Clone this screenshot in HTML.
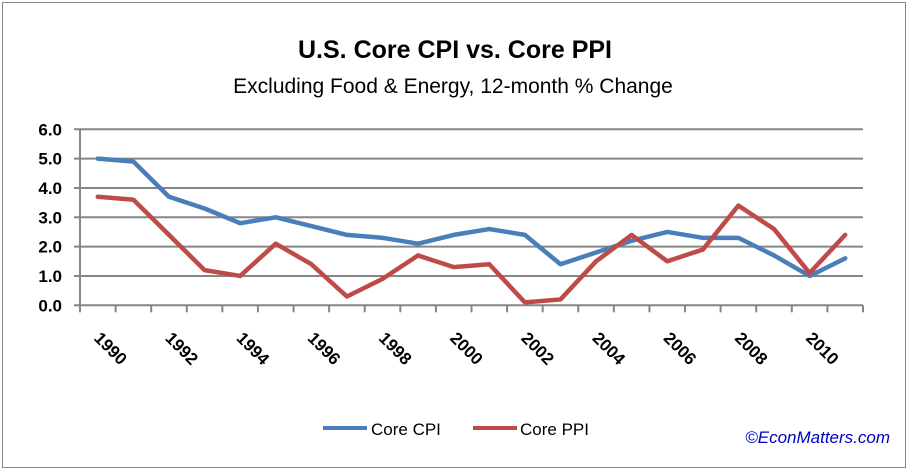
<!DOCTYPE html>
<html><head><meta charset="utf-8"><style>
body{margin:0;background:#fff;}
svg{display:block;font-family:"Liberation Sans",sans-serif;}
</style></head><body>
<svg id="chart" width="909" height="472">
<rect x="2.5" y="2.5" width="903" height="465" fill="#fff" stroke="#868686"/>
<text x="455" y="58" text-anchor="middle" font-size="25" font-weight="bold">U.S. Core CPI vs. Core PPI</text>
<text x="453" y="93" text-anchor="middle" font-size="21">Excluding Food &amp; Energy, 12-month % Change</text>
<g id="grid"></g><g id="series"></g>
<g>
<line x1="323" y1="428" x2="367" y2="428" stroke="#4a7ebb" stroke-width="4"/>
<text x="371" y="435" font-size="17">Core CPI</text>
<line x1="473" y1="428" x2="517" y2="428" stroke="#be4b48" stroke-width="4"/>
<text x="520" y="435" font-size="17">Core PPI</text>
</g>
<text x="890" y="443" text-anchor="end" font-size="17" font-style="italic" fill="#0000c0">©EconMatters.com</text>
</svg>
<script>
const years=["1990","1991","1992","1993","1994","1995","1996","1997","1998","1999","2000","2001","2002","2003","2004","2005","2006","2007","2008","2009","2010","2011"];
const cpi=[5.0,4.9,3.7,3.3,2.8,3.0,2.7,2.4,2.3,2.1,2.4,2.6,2.4,1.4,1.8,2.2,2.5,2.3,2.3,1.7,1.0,1.6];
const ppi=[3.7,3.6,2.4,1.2,1.0,2.1,1.4,0.3,0.9,1.7,1.3,1.4,0.1,0.2,1.5,2.4,1.5,1.9,3.4,2.6,1.1,2.4];
const yTicks=[0,1,2,3,4,5,6];
const NS="http://www.w3.org/2000/svg";
const L=80,R=863,T=129.3,B=305.3,ymax=6;
const bw=(R-L)/years.length;
function x(i){return L+bw*(i+0.5);}
function y(v){return B-(v/ymax)*(B-T);}
function mk(t,a,p){const e=document.createElementNS(NS,t);for(const k in a)e.setAttribute(k,a[k]);p.appendChild(e);return e;}
const g=document.getElementById('grid');
yTicks.forEach(v=>{
 const ln=mk('line',{x1:L-6,x2:R,y1:y(v),y2:y(v),stroke:'#868686','stroke-width':2},g);
 
 
 const t=mk('text',{x:L-18,y:y(v)+6,'text-anchor':'end','font-size':17,'font-weight':'bold'},g);
 t.textContent=v.toFixed(1);
 
 
});
const ax=mk('line',{x1:L,x2:L,y1:T,y2:B+6,stroke:'#868686','stroke-width':2},g);


for(let i=0;i<=years.length;i++){
 const tk=mk('line',{x1:L+bw*i,x2:L+bw*i,y1:B,y2:B+7,stroke:'#868686','stroke-width':2},g);
 
 
}
years.forEach((yr,i)=>{
 if(i%2)return;
 const cx=x(i)+13,cy=B+49;
 const t=mk('text',{x:cx,y:cy,'text-anchor':'middle','font-size':17,'font-weight':'bold',transform:`rotate(45 ${cx} ${cy-6})`},g);
 t.textContent=yr;
 
 
});
const s=document.getElementById('series');
function line(vals,col,name){
 const p=mk('polyline',{points:vals.map((v,i)=>x(i)+','+y(v)).join(' '),fill:'none',stroke:col,'stroke-width':4.5,'stroke-linejoin':'round','stroke-linecap':'round'},s);
 
 
}
line(cpi,'#4a7ebb','core-cpi-line');
line(ppi,'#be4b48','core-ppi-line');
</script>
</body></html>
